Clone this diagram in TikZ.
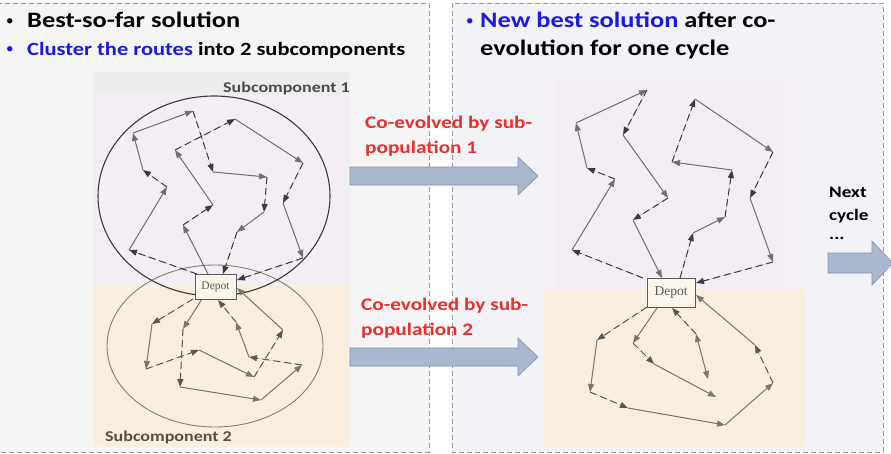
\documentclass[tikz,border=0pt]{standalone}
\usepackage{fontspec}
\setmainfont{Carlito}
\newfontfamily\widefont[FakeStretch=1.2]{Carlito}
\newfontfamily\depotfont{Liberation Serif}
\usetikzlibrary{arrows.meta}
\definecolor{panelL}{HTML}{F5F5F5}
\definecolor{panelR}{HTML}{F2F2F7}
\definecolor{edgegray}{HTML}{9A9A9A}
\definecolor{pinkbg}{HTML}{F3EEF3}
\definecolor{beigebg}{HTML}{F9EEE0}
\definecolor{hdrgray}{HTML}{EEEDEE}
\definecolor{solU}{HTML}{707070}
\definecolor{dasU}{HTML}{3C3C3C}
\definecolor{solB}{HTML}{7E7468}
\definecolor{dasB}{HTML}{5E554B}
\definecolor{circA}{HTML}{3A3A3A}
\definecolor{circB}{HTML}{8C7C6C}
\definecolor{bluetxt}{HTML}{1A1AE0}
\definecolor{redtxt}{HTML}{E8302A}
\definecolor{arrfill}{HTML}{A9B8CF}
\definecolor{arredge}{HTML}{8492A8}
\definecolor{subtxt}{HTML}{4A4A4A}
\definecolor{subtxtB}{HTML}{5A4C3E}
\begin{document}
\begin{tikzpicture}[x=1pt,y=-1pt,
  panel/.style={draw=edgegray,dash pattern=on 5pt off 3pt,line width=0.6pt},
  seg/.style={line width=1pt,-{Triangle[length=8pt,width=6pt]}},
  sU/.style={seg,draw=solU,fill=solU},
  dU/.style={seg,draw=dasU,fill=dasU,dash pattern=on 7pt off 4pt},
  sB/.style={seg,draw=solB,fill=solB},
  dB/.style={seg,draw=dasB,fill=dasB,dash pattern=on 7pt off 4pt},
  depot/.style={draw=black!65,fill=beigebg!60!white,line width=0.8pt,inner sep=0pt,text=black!65},
  txt/.style={inner sep=0pt,anchor=base west},
  bul/.style={inner sep=0pt,anchor=base west,font=\fontsize{15}{15}\selectfont},
  blockarrow/.style={fill=arrfill,draw=arredge,line width=0.6pt}
]
\useasboundingbox (0,0) rectangle (891,453);
\fill[white] (0,0) rectangle (891,453);
% panels
\fill[panelL] (0,3) rectangle (429,452);
\draw[panel] (-3,3) -- (429,3) -- (429,452) -- (-3,452);
\fill[panelR] (452,3) rectangle (883,452);
\draw[panel] (452,3) rectangle (883,452);
% figure backgrounds
\fill[hdrgray] (93,72) rectangle (350,94);
\fill[pinkbg] (93,94) rectangle (350,285);
\fill[beigebg] (93,285) rectangle (350,447);
\fill[pinkbg!85!white] (540,75) rectangle (800,290);
\fill[pinkbg] (556,82) rectangle (782,290);
\fill[beigebg] (543,290) rectangle (806,447);
% headings
\node[bul] (bu1) at (6,25) {•};
\node[txt,font=\widefont\fontsize{22}{26}\selectfont\bfseries] (h1) at (27,27) {Best-so-far solution};
\node[bul,text=bluetxt] (bu2) at (6,53) {•};
\node[txt,font=\widefont\fontsize{18.7}{23}\selectfont\bfseries] (h2) at (27,55) {\textcolor{bluetxt}{Cluster the routes} into 2 subcomponents};
\node[bul,text=bluetxt] (bu3) at (466,25) {•};
\node[txt,font=\widefont\fontsize{22}{26}\selectfont\bfseries] (h3) at (480,27) {\textcolor{bluetxt}{New best solution} after co-};
\node[txt,font=\widefont\fontsize{22}{26}\selectfont\bfseries] (h4) at (480,55) {evolution for one cycle};
% subcomponent labels
\node[txt,font=\widefont\fontsize{15}{18}\selectfont\bfseries,text=subtxt] (s1) at (223,92) {Subcomponent 1};
\node[txt,font=\widefont\fontsize{15}{18}\selectfont\bfseries,text=subtxtB] (s2) at (105,441) {Subcomponent 2};
% red labels
\node[txt,font=\widefont\fontsize{17.7}{20}\selectfont\bfseries,text=redtxt] (r1) at (365,128) {Co-evolved by sub-};
\node[txt,font=\widefont\fontsize{17.7}{20}\selectfont\bfseries,text=redtxt] (r2) at (365,153) {population 1};
\node[txt,font=\widefont\fontsize{17.7}{20}\selectfont\bfseries,text=redtxt] (r3) at (361,310) {Co-evolved by sub-};
\node[txt,font=\widefont\fontsize{17.7}{20}\selectfont\bfseries,text=redtxt] (r4) at (361,335) {population 2};
% next cycle
\node[txt,font=\widefont\fontsize{16}{19}\selectfont\bfseries] (n1) at (829,197) {Next};
\node[txt,font=\widefont\fontsize{16}{19}\selectfont\bfseries] (n2) at (829,220) {cycle};
\node[txt,font=\widefont\fontsize{16}{19}\selectfont\bfseries] (n3) at (829,239) {...};
% block arrows
\draw[blockarrow] (350,167) -- (518,167) -- (518,157) -- (538,176) -- (518,195) -- (518,185) -- (350,185) -- cycle;
\draw[blockarrow] (350,348) -- (518,348) -- (518,338) -- (538,357) -- (518,376) -- (518,366) -- (350,366) -- cycle;
\draw[blockarrow] (828,253) -- (872,253) -- (872,241) -- (893,263) -- (872,285) -- (872,273) -- (828,273) -- cycle;
% ellipses
\draw[circB,line width=0.9pt] (215,346) ellipse [x radius=108, y radius=81];
\draw[circA,line width=1.1pt] (214,196) ellipse [x radius=116, y radius=100];
% depots
\node[depot,minimum width=41pt,minimum height=25pt,font=\depotfont\fontsize{11.5}{12}\selectfont] (DL) at (215.5,286.5) {Depot};
\node[depot,minimum width=48pt,minimum height=29pt,font=\depotfont\fontsize{13.5}{14}\selectfont] (DR) at (671,292.5) {Depot};
% ---------- left, subcomponent 1
\coordinate (la0) at (197,274); \coordinate (la1) at (129,250); \coordinate (la2) at (167,187);
\coordinate (la3) at (143,170); \coordinate (la4) at (133,133); \coordinate (la5) at (193,111);
\coordinate (la6) at (213,172); \coordinate (la7) at (267,177); \coordinate (la8) at (264,212);
\coordinate (la9) at (237,232); \coordinate (la10) at (223,274);
\draw[dU] (la0) -- (la1); \draw[sU] (la1) -- (la2); \draw[dU] (la2) -- (la3);
\draw[sU] (la3) -- (la4); \draw[sU] (la4) -- (la5); \draw[dU] (la5) -- (la6);
\draw[sU] (la6) -- (la7); \draw[dU] (la7) -- (la8); \draw[sU] (la8) -- (la9);
\draw[dU] (la9) -- (la10);
\coordinate (lb0) at (208,274); \coordinate (lb1) at (183,225); \coordinate (lb2) at (213,205);
\coordinate (lb3) at (175,150); \coordinate (lb4) at (235,119); \coordinate (lb5) at (303,163);
\coordinate (lb6) at (283,203); \coordinate (lb7) at (303,258); \coordinate (lb8) at (237,280);
\draw[sU] (lb0) -- (lb1); \draw[dU] (lb1) -- (lb2); \draw[sU] (lb2) -- (lb3);
\draw[dU] (lb3) -- (lb4); \draw[sU] (lb4) -- (lb5); \draw[dU] (lb5) -- (lb6);
\draw[sU] (lb6) -- (lb7); \draw[dU] (lb7) -- (lb8);
% ---------- left, subcomponent 2
\coordinate (lc0) at (193,299); \coordinate (lc1) at (152,324); \coordinate (lc2) at (146,369);
\coordinate (lc3) at (199,350); \coordinate (lc4) at (254,377); \coordinate (lc5) at (283,330);
\coordinate (lc6) at (237,288);
\draw[dB] (lc0) -- (lc1); \draw[sB] (lc1) -- (lc2); \draw[dB] (lc2) -- (lc3);
\draw[sB] (lc3) -- (lc4); \draw[dB] (lc4) -- (lc5); \draw[sB] (lc5) -- (lc6);
\coordinate (ld0) at (202,299); \coordinate (ld1) at (183,329); \coordinate (ld2) at (180,387);
\coordinate (ld3) at (261,400); \coordinate (ld4) at (302,365); \coordinate (ld5) at (249,357);
\coordinate (ld6) at (236,322); \coordinate (ld7) at (218,300);
\draw[sB] (ld0) -- (ld1); \draw[dB] (ld1) -- (ld2); \draw[sB] (ld2) -- (ld3);
\draw[sB] (ld3) -- (ld4); \draw[dB] (ld4) -- (ld5); \draw[sB] (ld5) -- (ld6);
\draw[dB] (ld6) -- (ld7);
% ---------- right, upper
\coordinate (re0) at (643,278); \coordinate (re1) at (572,250); \coordinate (re2) at (615,179);
\coordinate (re3) at (587,168); \coordinate (re4) at (576,123); \coordinate (re5) at (647,90);
\coordinate (re6) at (623,135); \coordinate (re7) at (668,198); \coordinate (re8) at (633,220);
\coordinate (re9) at (662,278);
\draw[dU] (re0) -- (re1); \draw[sU] (re1) -- (re2); \draw[dU] (re2) -- (re3);
\draw[sU] (re3) -- (re4); \draw[sU] (re4) -- (re5); \draw[dU] (re5) -- (re6);
\draw[sU] (re6) -- (re7); \draw[dU] (re7) -- (re8); \draw[sU] (re8) -- (re9);
\coordinate (rf0) at (680,278); \coordinate (rf1) at (693,233); \coordinate (rf2) at (725,217);
\coordinate (rf3) at (732,170); \coordinate (rf4) at (672,162); \coordinate (rf5) at (695,99);
\coordinate (rf6) at (773,152); \coordinate (rf7) at (750,198); \coordinate (rf8) at (773,262);
\coordinate (rf9) at (696,283);
\draw[dU] (rf0) -- (rf1); \draw[sU] (rf1) -- (rf2); \draw[dU] (rf2) -- (rf3);
\draw[sU] (rf3) -- (rf4); \draw[dU] (rf4) -- (rf5); \draw[sU] (rf5) -- (rf6);
\draw[dU] (rf6) -- (rf7); \draw[sU] (rf7) -- (rf8); \draw[dU] (rf8) -- (rf9);
% ---------- right, lower
\coordinate (rg0) at (647,307); \coordinate (rg1) at (597,340); \coordinate (rg2) at (590,392);
\coordinate (rg3) at (628,408); \coordinate (rg4) at (725,425); \coordinate (rg5) at (773,383);
\coordinate (rg6) at (755,345); \coordinate (rg7) at (696,295);
\draw[dB] (rg0) -- (rg1); \draw[sB] (rg1) -- (rg2); \draw[dB] (rg2) -- (rg3);
\draw[sB] (rg3) -- (rg4); \draw[sB] (rg4) -- (rg5); \draw[dB] (rg5) -- (rg6);
\draw[sB] (rg6) -- (rg7);
\coordinate (rh0) at (657,308); \coordinate (rh1) at (633,343); \coordinate (rh2) at (654,364);
\coordinate (rh3) at (716,397); \coordinate (rh4) at (708,379); \coordinate (rh5) at (696,334);
\coordinate (rh6) at (672,308);
\draw[sB] (rh0) -- (rh1); \draw[dB] (rh1) -- (rh2); \draw[sB] (rh2) -- (rh3);
\draw[sB,{Triangle[length=8pt,width=6pt]}-{Triangle[length=8pt,width=6pt]}] (rh4) -- (rh5);
\draw[dB] (rh5) -- (rh6);
\end{tikzpicture}
\end{document}
